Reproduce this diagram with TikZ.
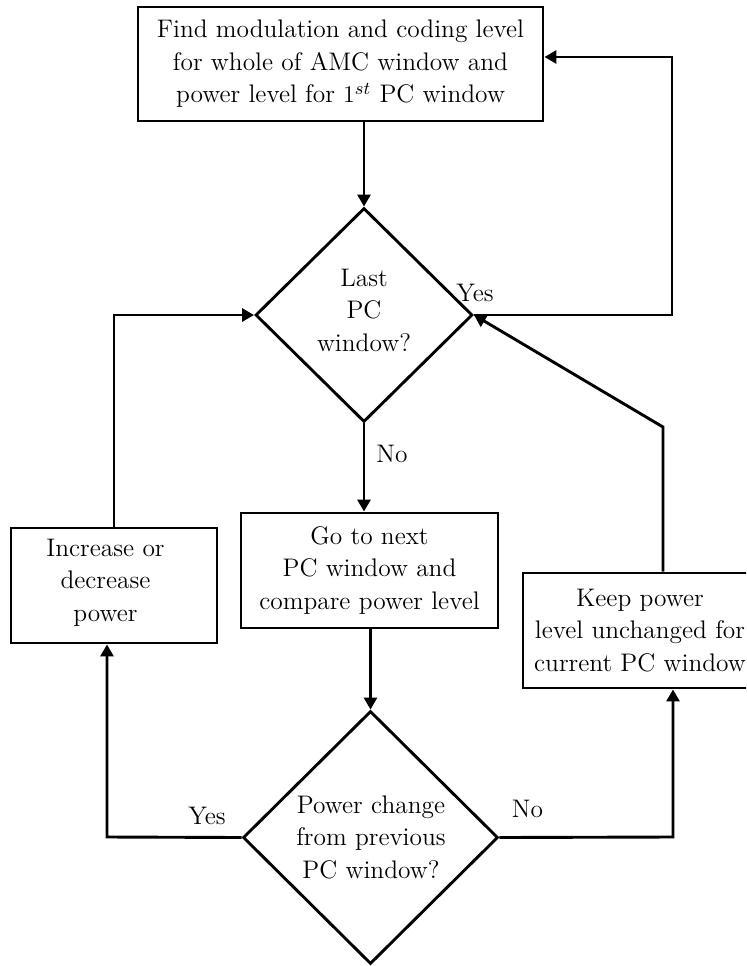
\documentclass[tikz,border=0pt]{standalone}
\usetikzlibrary{shapes.geometric,arrows.meta}
\begin{document}
\begin{tikzpicture}[x=0.5pt,y=-0.5pt,
  line width=1.45pt,
  every node/.style={font=\fontsize{12.7}{16.25}\selectfont},
  proc/.style={draw, rectangle, inner sep=0pt, align=center},
  decision/.style={draw, diamond, inner sep=0pt},
  txt/.style={align=center, inner sep=0pt},
  flow/.style={-{Triangle[length=6pt,width=6.5pt]}},
]
\clip (0,0) rectangle (746,966);

% process boxes
\node[proc, minimum width=202.5pt, minimum height=57pt] (top) at (340.5,64)
  {Find modulation and coding level\\for whole of AMC window and\\power level for $1^{st}$ PC window};
\node[proc, minimum width=128.5pt, minimum height=57.5pt] (next) at (369.5,570.5)
  {Go to next\\PC window and\\compare power level};
\node[proc, minimum width=103pt, minimum height=57.5pt] (inc) at (114,585.5) {};
\node[txt] (inct) at (105.5,582.5) {Increase or\\decrease\\power};
\node[proc, minimum width=117pt, minimum height=57.5pt] (keep) at (640,630.5)
  {Keep power\\level unchanged for\\current PC window};

% decisions
\node[decision, minimum width=108.5pt, minimum height=107pt] (d1) at (364,315) {};
\node[txt] (d1t) at (364,310) {Last\\PC\\window?};
\node[decision, minimum width=127.5pt, minimum height=126.5pt] (d2) at (370.5,837.5) {};
\node[txt] (d2t) at (371,837) {Power change\\from previous\\PC window?};

% branch labels
\node (yes1) at (475,293) {Yes};
\node (no1) at (392,454) {No};
\node (yes2) at (207,816) {Yes};
\node (no2) at (527.5,809) {No};

% bend points
\coordinate (ret) at (672,57);
\coordinate (keepUp) at (663,427);
\coordinate (yesL) at (107,837);
\coordinate (noR) at (673,837);

% connectors
\draw[flow] (top.south -| d1.north) -- (d1.north);
\draw[flow] (d1.south) -- (d1.south |- next.north);
\draw[flow] (next.south -| d2.north) -- (d2.north);
\draw[flow] (d1.east) -| (ret) -- (ret -| top.east);
\draw[flow] (keepUp |- keep.north) -- (keepUp) -- (d1.east);
\draw[flow] (inc.north) |- (d1.west);
\draw[flow] (d2.west) -- (yesL) -- (yesL |- inc.south);
\draw[flow] (d2.east) -- (noR) -- (noR |- keep.south);
\end{tikzpicture}
\end{document}
